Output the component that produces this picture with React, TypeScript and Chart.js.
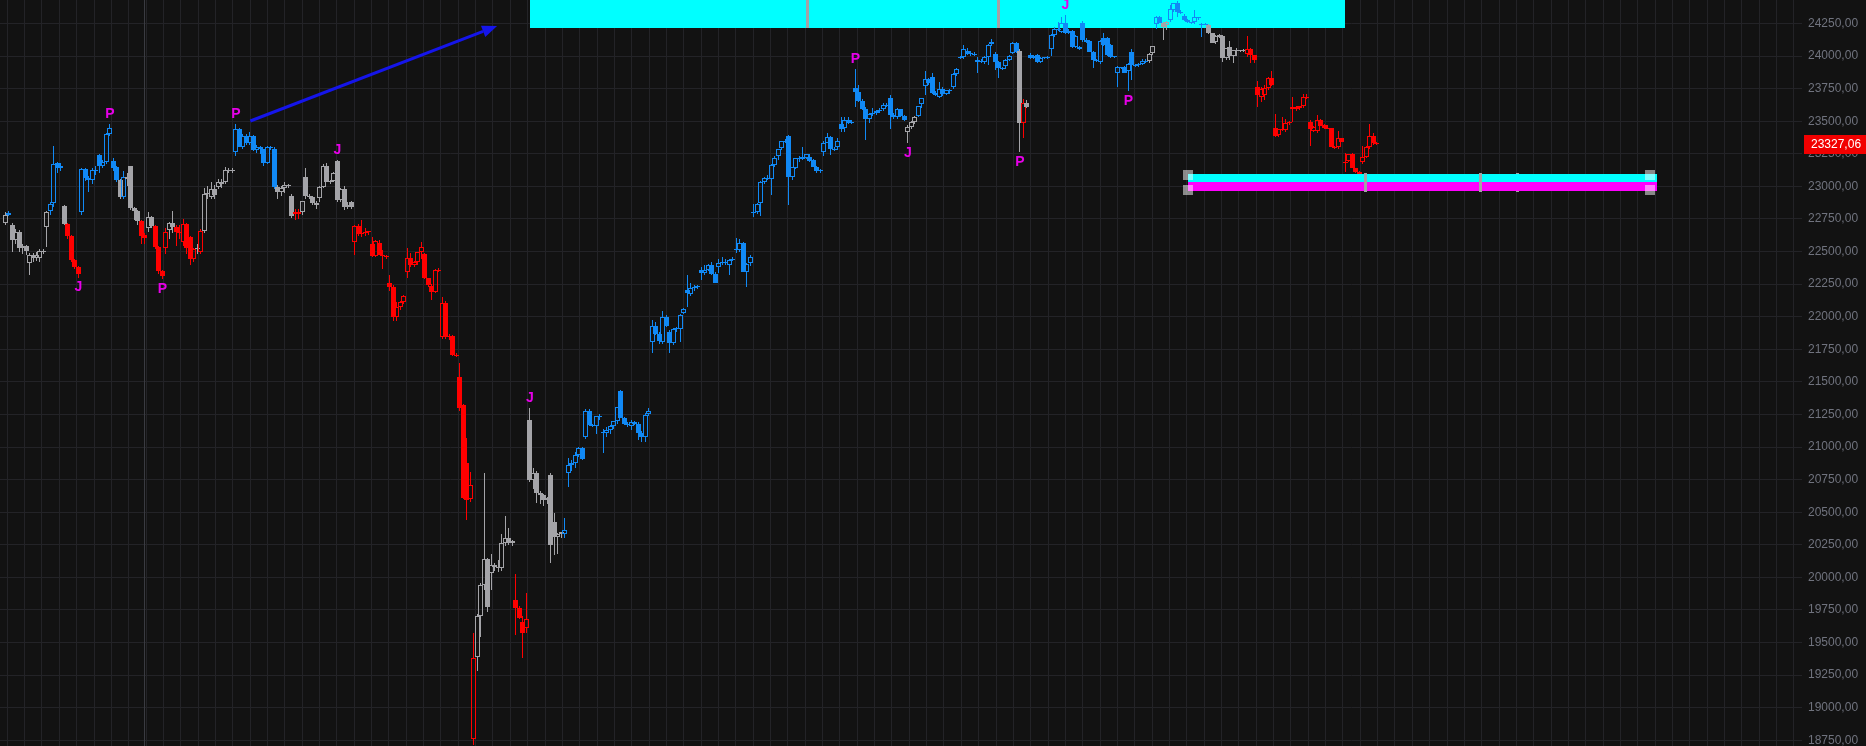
import React, { useEffect, useRef } from "react";
import { Chart, registerables } from "chart.js";

Chart.register(...registerables);

// ---------------- data ----------------
const opens = [
  22720,22780,22700,22589,22653,22525,22540,22410,22474,22448,
  22448,22506,22686,22813,22870,23182,23139,22850,22711,22619,
  22435,22384,22806,23134,23062,23049,23126,23241,23157,23190,
  23402,23195,23150,23049,22921,23075,23157,22832,22810,22737,
  22625,22680,22763,22696,22537,22353,22525,22666,22717,22691,
  22653,22576,22711,22614,22440,22517,22499,22660,22939,22921,
  22977,22993,23036,23036,23126,23120,23267,23438,23305,23387,
  23336,23390,23279,23300,23285,23182,23300,23290,22993,22960,
  22985,23010,22925,22806,22790,22800,23070,22926,22920,22875,
  22910,22998,23155,23036,23040,23195,22895,22978,22845,22880,
  22576,22696,22640,22645,22650,22558,22467,22569,22474,22465,
  22255,22225,21995,22077,22115,22346,22448,22400,22420,22495,
  22480,22295,22238,22192,22356,21842,22108,21842,21850,21706,
  21535,21322,20875,20601,18757,19386,19703,19940,20138,20035,
  20094,20080,20074,20261,20299,20261,19826,19762,19660,19608,
  21207,20746,20803,20650,20631,20596,20785,20427,20312,20335,
  20335,20803,20862,20875,20938,20990,21074,21276,21169,21160,
  21237,21112,21105,21130,21161,21202,21432,21225,21177,21160,
  21190,21174,21110,21079,21251,21803,21931,21867,21808,22000,
  21880,21796,21902,21903,22026,22204,22174,22217,22230,22358,
  22337,22358,22396,22327,22378,22409,22420,22396,22435,22516,
  22511,22562,22345,22414,22800,22806,22875,23036,23062,23059,
  23164,23233,23292,23348,23386,23074,23138,23215,23210,23215,
  23228,23202,23146,23120,23266,23335,23376,23284,23299,23478,
  23445,23509,23488,23752,23726,23657,23591,23514,23553,23565,
  23575,23591,23624,23675,23547,23530,23591,23540,23420,23458,
  23496,23540,23629,23770,23824,23837,23714,23688,23744,23709,
  23739,23765,23862,23985,23990,24041,24026,24015,23970,23957,
  23957,23990,24090,24016,23957,23906,23924,23970,24026,24097,
  24041,23489,23637,24008,23982,24008,23957,23985,23990,24051,
  24161,24205,24187,24251,24180,24195,24067,24067,24251,24123,
  24118,24034,23970,23957,24136,24136,24085,23995,23867,23913,
  23918,23888,24033,23931,23930,23940,23965,23960,24021,24246,
  24297,24256,24238,24277,24353,24404,24340,24307,24277,24260,
  24264,24297,24245,24242,24238,24174,24110,24150,24154,23982,
  24072,24000,24046,24040,24045,24013,24051,24008,23760,23688,
  23700,23752,23829,23450,23394,23437,23432,23483,23606,23594,
  23600,23617,23688,23496,23427,23427,23509,23471,23445,23445,
  23305,23304,23368,23190,23197,23248,23138,23110,23189,23223,
  23304,23386,23330,
];

const highs = [
  22800,22810,22720,22670,22665,22560,22550,22490,22490,22500,
  22520,22520,22815,22880,23310,23190,23180,22860,22720,22630,
  22440,22390,23140,23140,23080,23140,23160,23250,23200,23410,
  23479,23220,23160,23060,23120,23100,23160,22840,22820,22745,
  22640,22800,22770,22700,22540,22360,22680,22730,22810,22700,
  22700,22750,22720,22620,22530,22560,22670,22990,23000,23030,
  23010,23060,23060,23150,23140,23140,23479,23450,23400,23400,
  23420,23395,23320,23310,23290,23310,23310,23300,23010,23000,
  23030,23020,22940,22830,22830,22890,23139,22940,22930,22890,
  23000,23170,23180,23050,23110,23203,22990,23000,22880,22890,
  22700,22710,22742,22680,22660,22614,22586,22590,22510,22470,
  22320,22240,22110,22120,22170,22525,22490,22430,22500,22576,
  22490,22300,22250,22370,22372,22154,22120,21870,21860,21720,
  21642,21330,21066,20810,19570,19720,19960,20798,20150,20180,
  20110,20130,20330,20470,20380,20290,20025,19780,19700,19882,
  21296,20840,20820,20660,20640,20620,20800,20491,20340,20350,
  20452,20913,20900,20960,21000,21000,21290,21290,21180,21240,
  21250,21140,21150,21170,21200,21310,21440,21230,21190,21210,
  21200,21190,21120,21260,21297,21974,21960,21880,22043,22010,
  21895,21910,21920,22020,22070,22320,22256,22240,22240,22380,
  22400,22405,22420,22340,22440,22455,22440,22440,22460,22601,
  22600,22570,22410,22475,22862,22870,23040,23070,23090,23170,
  23230,23290,23350,23360,23395,23150,23220,23230,23304,23250,
  23250,23210,23160,23130,23345,23407,23390,23300,23368,23535,
  23535,23530,23510,23900,23780,23670,23610,23560,23600,23590,
  23600,23640,23640,23701,23560,23600,23595,23545,23470,23500,
  23540,23620,23680,23885,23830,23870,23730,23800,23760,23740,
  23750,23870,23910,24000,24085,24060,24040,24030,23990,23980,
  24000,24090,24130,24030,23960,23920,23975,24010,24110,24110,
  24051,23668,23663,24020,24010,24015,23990,23995,24000,24170,
  24220,24260,24297,24315,24210,24200,24160,24075,24271,24135,
  24125,24040,23975,24120,24174,24150,24090,24000,23925,23920,
  23925,23945,24051,23940,23950,23975,23975,24020,24080,24310,
  24310,24262,24270,24392,24410,24420,24350,24320,24285,24265,
  24353,24300,24255,24250,24245,24180,24160,24170,24160,24060,
  24118,24050,24060,24050,24055,24154,24060,24010,23808,23760,
  23780,23840,23885,23553,23440,23535,23520,23500,23688,23620,
  23620,23709,23710,23510,23460,23547,23515,23480,23470,23450,
  23310,23425,23375,23253,23250,23260,23140,23115,23310,23310,
  23478,23410,23340,
];

const lows = [
  22700,22770,22499,22560,22500,22480,22470,22320,22420,22430,
  22420,22480,22537,22780,22840,23100,23120,22700,22600,22420,
  22370,22300,22780,23040,22960,23020,23090,23100,23140,23170,
  23390,23120,23030,22900,22900,23000,22820,22740,22700,22560,
  22560,22650,22680,22520,22330,22290,22480,22600,22640,22540,
  22600,22540,22480,22400,22420,22480,22480,22640,22900,22900,
  22900,22980,22990,23020,23100,23100,23230,23300,23290,23320,
  23320,23270,23260,23250,23160,23170,23280,22980,22900,22930,
  22950,22990,22760,22740,22750,22780,22900,22900,22860,22830,
  22880,22990,23030,23020,23030,22880,22880,22820,22830,22830,
  22474,22620,22610,22620,22630,22460,22460,22470,22370,22440,
  22200,21970,21970,22050,22100,22295,22380,22380,22400,22440,
  22290,22230,22128,22180,22340,21830,21830,21820,21700,21690,
  21280,20600,20440,20580,18713,19280,19545,19900,19736,19900,
  20050,20040,20050,20240,20250,20240,19557,19680,19378,19570,
  20730,20680,20572,20560,20550,20560,20112,20171,20180,20300,
  20300,20696,20820,20840,20920,20900,21060,21160,21150,21100,
  21210,20951,21080,21100,21140,21180,21220,21170,21150,21130,
  21170,21054,21041,21040,21240,21718,21860,21790,21790,21920,
  21720,21780,21880,21803,22020,22077,22160,22200,22210,22281,
  22320,22350,22320,22255,22337,22395,22400,22320,22430,22490,
  22500,22340,22230,22390,22762,22790,22770,23020,23050,22933,
  23150,23200,23280,23330,22857,23050,23130,23190,23200,23210,
  23190,23150,23100,23100,23230,23330,23240,23270,23280,23420,
  23420,23480,23480,23611,23650,23590,23356,23490,23540,23550,
  23560,23580,23610,23440,23520,23520,23535,23500,23335,23440,
  23480,23530,23600,23700,23780,23710,23690,23680,23690,23700,
  23710,23750,23850,23975,23980,24010,24000,24000,23867,23950,
  23940,23931,24080,23895,23829,23895,23900,23960,24015,24020,
  23266,23368,23599,23975,23975,23950,23950,23975,23980,24000,
  24150,24195,24180,24170,24170,24060,24060,24050,24110,24100,
  24030,23906,23955,23940,24080,24000,23985,23985,23765,23900,
  23870,23734,23816,23920,23915,23930,23945,23950,24010,24205,
  24250,24123,24200,24260,24340,24300,24320,24270,24255,24245,
  24245,24280,24149,24235,24170,24100,24090,24140,23957,23970,
  23970,23950,24000,24030,24030,23990,23944,23950,23611,23650,
  23660,23740,23770,23380,23380,23425,23420,23470,23496,23580,
  23590,23600,23668,23310,23420,23410,23460,23440,23440,23300,
  23290,23290,23340,23113,23190,23138,23100,23090,23170,23220,
  23290,23320,23315,
];

const closes = [
  22780,22795,22589,22653,22525,22540,22505,22474,22448,22470,
  22506,22500,22806,22865,23172,23139,23160,22711,22619,22435,
  22384,22328,23134,23062,23049,23126,23120,23157,23190,23402,
  23446,23139,23049,22921,23075,23060,22832,22810,22737,22619,
  22601,22763,22696,22537,22353,22315,22653,22717,22690,22653,
  22640,22711,22525,22440,22517,22525,22658,22939,22950,22977,
  22934,23036,23020,23126,23120,23125,23438,23305,23387,23336,
  23390,23279,23300,23290,23182,23300,23295,22993,22960,22985,
  23010,23005,22770,22790,22800,22885,22926,22920,22875,22860,
  22995,23155,23036,23040,23100,22895,22980,22845,22860,22842,
  22696,22637,22645,22650,22655,22467,22584,22474,22465,22460,
  22225,21995,22077,22115,22159,22448,22400,22420,22495,22537,
  22295,22240,22192,22356,22350,22108,21842,21850,21706,21698,
  21297,20611,20593,20708,19378,19703,19940,20138,19770,20094,
  20080,20074,20266,20299,20261,20280,19762,19685,19575,19677,
  20746,20800,20650,20630,20596,20610,20248,20312,20335,20345,
  20365,20862,20875,20938,20990,20905,21276,21169,21160,21237,
  21232,21105,21130,21161,21202,21304,21225,21177,21170,21194,
  21180,21110,21079,21245,21276,21931,21867,21813,22000,21928,
  21796,21902,21910,22013,22056,22179,22217,22230,22235,22337,
  22360,22396,22327,22257,22409,22420,22415,22435,22440,22511,
  22562,22345,22404,22455,22806,22864,23036,23061,23066,23164,
  23215,23286,23348,23352,23074,23146,23215,23210,23225,23248,
  23194,23151,23120,23125,23335,23376,23284,23290,23348,23440,
  23509,23488,23495,23726,23657,23591,23514,23553,23565,23575,
  23585,23624,23620,23547,23530,23591,23540,23509,23453,23496,
  23535,23617,23675,23824,23790,23714,23700,23744,23710,23739,
  23734,23862,23900,23995,24051,24016,24015,24010,23957,23965,
  23990,24085,24110,23952,23906,23910,23970,24003,24097,24033,
  23489,23637,23611,23982,24000,23957,23985,23990,23995,24161,
  24205,24200,24256,24180,24190,24072,24154,24057,24123,24110,
  24034,23970,23962,24115,24085,24008,23990,23998,23913,23905,
  23872,23939,23931,23930,23940,23965,23960,24016,24077,24297,
  24256,24226,24262,24358,24404,24340,24338,24277,24260,24252,
  24297,24290,24242,24245,24174,24103,24154,24160,23982,24059,
  24000,24046,24040,24045,24040,24051,24008,23970,23701,23744,
  23752,23829,23778,23386,23437,23430,23483,23495,23594,23610,
  23615,23688,23676,23440,23453,23509,23463,23445,23450,23305,
  23296,23368,23343,23180,23248,23138,23113,23095,23223,23304,
  23386,23330,23327.06,
];

// trend state of the indicator: b = up, r = down, g = neutral (run lengths)
const trendRuns: [string, number][] = [
  ["g",1],["b",1],["g",11],["b",4],["g",1],["r",4],["b",11],["g",1],["b",1],["g",4],
  ["r",2],["g",2],["r",4],["g",2],["r",6],["g",1],["r",1],["g",9],["b",12],["g",5],
  ["r",2],["g",15],["r",35],["g",11],["r",4],["g",10],["b",98],["g",3],["b",29],["g",1],
  ["r",1],["g",1],["b",34],["g",2],["b",2],["g",2],["b",11],["g",11],["r",38],
];

const yTickValues = [
  18750,19000,19250,19500,19750,20000,20250,20500,20750,21000,21250,21500,
  21750,22000,22250,22500,22750,23000,23250,23500,23750,24000,24250,
];

const pivotIndex = [21, 30, 45, 66, 95, 150, 243, 258, 290, 303, 321];
const pivotText = ["J", "P", "P", "P", "J", "J", "P", "J", "P", "J", "P"];
const pivotSide = ["below", "above", "below", "above", "above", "above", "above", "below", "below", "above", "below"];

// annotations in data space: [fromIndex, toIndex, lowPrice, highPrice]
const resistanceZone = [150.0, 382.86, 24215, 24800];
const resistanceMarks = [229.1, 283.6];
const supportUpper = [338.0, 471.9, 23034, 23095];
const supportLower = [338.0, 471.9, 22965, 23034];
const supportMarksFront = [388.7, 421.3];
const supportMarksBack = [432.1];
const arrowFrom = [70.1, 23502];
const arrowTo = [140.6, 24231];
const sessionBreak = 39.8;
const lastPrice = 23327.06;

const X_MIN = -1.4286;
const X_MAX = 513.43;
const Y_MIN = 18706;
const Y_MAX = 24430.3;
const GRID_START = 0.657;
const GRID_STEP = 4.956;

// ---------------- styles ----------------
const BG = "#121212";
const GRID = "#232327";
const COLORS: Record<string, string> = { b: "#1189f5", r: "#ff0000", g: "#a4a4a8" };

function expandRuns(runs: [string, number][]): string[] {
  const out: string[] = [];
  runs.forEach(([k, n]) => { for (let j = 0; j < n; j++) out.push(k); });
  return out;
}

export default function App() {
  const ref = useRef<HTMLCanvasElement | null>(null);

  useEffect(() => {
    if (!ref.current) return;
    const trend = expandRuns(trendRuns);
    const colors = closes.map((_, i) => COLORS[trend[i] || "g"]);
    const bodyFill = closes.map((c, i) => (c > opens[i] ? "rgba(0,0,0,0)" : colors[i]));

    const bodyData = closes.map((c, i) => ({ x: i, y: [opens[i], c] }));
    const upperWick = closes.map((c, i) => ({ x: i, y: [Math.max(opens[i], c), highs[i]] }));
    const lowerWick = closes.map((c, i) => ({ x: i, y: [lows[i], Math.min(opens[i], c)] }));

    const crisp = {
      id: "crisp",
      afterDatasetsUpdate(chart: any) {
        chart.data.datasets.forEach((ds: any, k: number) => {
          const meta = chart.getDatasetMeta(k);
          const isBody = ds.label === "body";
          meta.data.forEach((el: any) => {
            const x = Math.floor(el.x) + 0.5;
            const top = Math.round(Math.min(el.y, el.base));
            let bot = Math.round(Math.max(el.y, el.base));
            if (isBody && bot - top < 1) bot = top + 1;
            el.x = x;
            el.y = top;
            el.base = bot;
          });
        });
      },
    };

    const background = {
      id: "background",
      beforeDraw(chart: any) {
        const c = chart.ctx;
        c.save();
        c.fillStyle = BG;
        c.fillRect(0, 0, chart.width, chart.height);
        c.restore();
      },
    };

    const under = {
      id: "under",
      beforeDatasetsDraw(chart: any) {
        const c = chart.ctx;
        const xs = chart.scales.x;
        const ys = chart.scales.y;
        const px = (v: number) => xs.getPixelForValue(v);
        const py = (v: number) => ys.getPixelForValue(v);
        const area = chart.chartArea;
        c.save();
        // session separator
        c.strokeStyle = "#3a3b41";
        c.lineWidth = 1;
        const sx = Math.floor(px(sessionBreak)) + 0.5;
        c.beginPath();
        c.moveTo(sx, area.top);
        c.lineTo(sx, area.bottom);
        c.stroke();
        // resistance zone (cyan)
        const zx1 = Math.round(px(resistanceZone[0]));
        const zx2 = Math.round(px(resistanceZone[1]));
        const zyB = Math.round(py(resistanceZone[2]));
        const zyT = Math.max(area.top, Math.round(py(resistanceZone[3])));
        c.fillStyle = "#00ffff";
        c.fillRect(zx1, zyT, zx2 - zx1, zyB - zyT);
        c.fillStyle = "#a3a3a6";
        resistanceMarks.forEach((m) => {
          const mx = Math.round(px(m));
          c.fillRect(mx - 1, zyT, 3, zyB - zyT);
        });
        // mark behind support bands
        supportMarksBack.forEach((m) => {
          const mx = Math.round(px(m));
          const t = Math.round(py(supportUpper[3])) - 1;
          const b = Math.round(py(supportLower[2])) + 1;
          c.fillRect(mx - 1, t, 3, b - t);
        });
        c.restore();
      },
    };

    const over = {
      id: "over",
      afterDatasetsDraw(chart: any) {
        const c = chart.ctx;
        const xs = chart.scales.x;
        const ys = chart.scales.y;
        const px = (v: number) => xs.getPixelForValue(v);
        const py = (v: number) => ys.getPixelForValue(v);
        c.save();
        // support bands
        const bands: [number[], string][] = [[supportUpper, "#00ffff"], [supportLower, "#ff00ff"]];
        bands.forEach(([b, col]) => {
          const x1 = Math.round(px(b[0]));
          const x2 = Math.round(px(b[1]));
          const yT = Math.round(py(b[3]));
          const yB = Math.round(py(b[2]));
          c.fillStyle = col;
          c.fillRect(x1, yT, x2 - x1, yB - yT);
        });
        // front marks
        c.fillStyle = "#a3a3a6";
        supportMarksFront.forEach((m) => {
          const mx = Math.round(px(m));
          const t = Math.round(py(supportUpper[3])) - 1;
          const b = Math.round(py(supportLower[2])) + 1;
          c.fillRect(mx - 1, t, 3, b - t);
        });
        // handles
        c.fillStyle = "rgba(255,255,255,0.5)";
        const hT = Math.round(py(supportUpper[3]));
        const hB = Math.round(py(supportLower[2]));
        const hx = [Math.round(px(supportUpper[0])), Math.round(px(supportUpper[1])) - 7];
        hx.forEach((x) => {
          c.fillRect(x - 5, hT - 4, 10, 10);
          c.fillRect(x - 5, hB - 6, 10, 10);
        });
        // arrow
        const x1 = px(arrowFrom[0]);
        const y1 = py(arrowFrom[1]);
        const x2 = px(arrowTo[0]);
        const y2 = py(arrowTo[1]);
        const ang = Math.atan2(y2 - y1, x2 - x1);
        const hl = 15;
        const hw = 6;
        const bx = x2 - hl * Math.cos(ang);
        const by = y2 - hl * Math.sin(ang);
        c.strokeStyle = "#1515ea";
        c.fillStyle = "#1515ea";
        c.lineWidth = 3;
        c.beginPath();
        c.moveTo(x1, y1);
        c.lineTo(bx, by);
        c.stroke();
        c.beginPath();
        c.moveTo(x2, y2);
        c.lineTo(bx + hw * Math.sin(ang), by - hw * Math.cos(ang));
        c.lineTo(bx - hw * Math.sin(ang), by + hw * Math.cos(ang));
        c.closePath();
        c.fill();
        // pivot labels
        c.font = 'bold 14px "Liberation Sans", Arial, sans-serif';
        c.fillStyle = "#e600e8";
        c.textAlign = "center";
        pivotIndex.forEach((idx, k) => {
          const x = px(idx);
          if (pivotSide[k] === "above") {
            c.textBaseline = "bottom";
            c.fillText(pivotText[k], x, py(highs[idx]) - 3);
          } else {
            c.textBaseline = "top";
            c.fillText(pivotText[k], x, py(lows[idx]) + 3);
          }
        });
        c.restore();
      },
      afterDraw(chart: any) {
        const c = chart.ctx;
        const ys = chart.scales.y;
        const y = Math.round(ys.getPixelForValue(lastPrice));
        const left = chart.chartArea.right + 2;
        c.save();
        c.fillStyle = "#f20000";
        c.fillRect(left, y - 9, chart.width - left, 19);
        c.fillStyle = "#ffffff";
        c.font = '12px "Liberation Sans", Arial, sans-serif';
        c.textAlign = "left";
        c.textBaseline = "middle";
        c.fillText(lastPrice.toFixed(2).replace(".", ","), left + 7, y + 1);
        c.restore();
      },
    };

    const chart = new Chart(ref.current, {
      type: "bar",
      data: {
        datasets: [
          {
            label: "body",
            data: bodyData as any,
            backgroundColor: bodyFill,
            borderColor: colors,
            borderWidth: 1,
            borderSkipped: false,
            barThickness: 5,
            grouped: false,
            inflateAmount: 0,
            order: 0,
          } as any,
          {
            label: "upperWick",
            data: upperWick as any,
            backgroundColor: colors,
            borderWidth: 0,
            barThickness: 1,
            grouped: false,
            inflateAmount: 0,
            order: 1,
          } as any,
          {
            label: "lowerWick",
            data: lowerWick as any,
            backgroundColor: colors,
            borderWidth: 0,
            barThickness: 1,
            grouped: false,
            inflateAmount: 0,
            order: 2,
          } as any,
        ],
      },
      options: {
        responsive: false,
        animation: false,
        devicePixelRatio: 1,
        events: [],
        layout: { padding: 0 },
        plugins: { legend: { display: false }, tooltip: { enabled: false } },
        scales: {
          x: {
            type: "linear",
            min: X_MIN,
            max: X_MAX,
            bounds: "data",
            offset: false,
            grid: { color: GRID, lineWidth: 1, drawTicks: false, offset: false },
            border: { display: false },
            ticks: { display: false },
            afterBuildTicks: (scale: any) => {
              const t: any[] = [];
              for (let v = GRID_START; v <= X_MAX; v += GRID_STEP) t.push({ value: v });
              scale.ticks = t;
            },
            afterFit: (scale: any) => {
              scale.height = 0;
              scale.paddingLeft = 0;
              scale.paddingRight = 0;
            },
          } as any,
          y: {
            type: "linear",
            position: "right",
            min: Y_MIN,
            max: Y_MAX,
            bounds: "data",
            beginAtZero: false,
            grid: { color: GRID, lineWidth: 1, drawTicks: false },
            border: { display: false },
            ticks: {
              autoSkip: false,
              padding: 6,
              color: "#70737e",
              font: { family: '"Liberation Sans", Arial, sans-serif', size: 12 },
              callback: (v: any) => Number(v).toFixed(2).replace(".", ","),
            },
            afterBuildTicks: (scale: any) => {
              scale.ticks = yTickValues.map((v) => ({ value: v }));
            },
            afterFit: (scale: any) => {
              scale.width = 64;
              scale.paddingTop = 0;
              scale.paddingBottom = 0;
            },
          } as any,
        },
      },
      plugins: [background, crisp, under, over],
    });

    return () => chart.destroy();
  }, []);

  return (
    <div style={{ position: "fixed", left: 0, top: 0, width: 1866, height: 746, background: BG }}>
      <canvas ref={ref} width={1866} height={746} style={{ display: "block" }} />
    </div>
  );
}
